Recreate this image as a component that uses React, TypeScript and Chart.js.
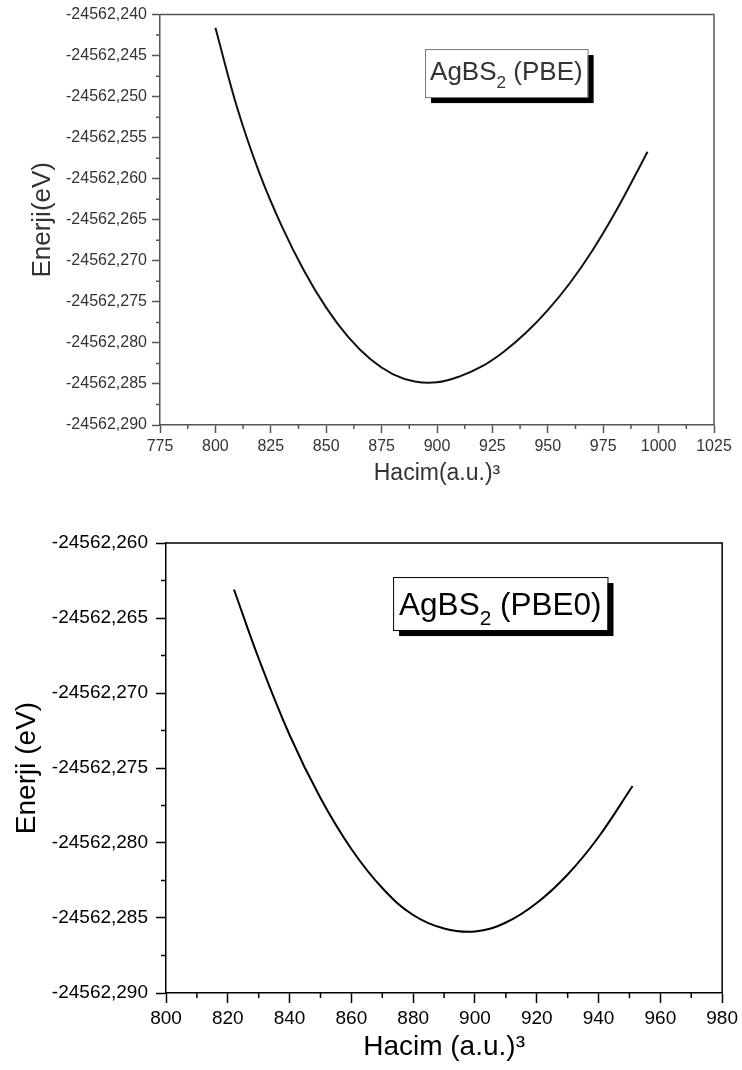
import React, { useEffect, useRef } from "react";
import { Chart, registerables } from "chart.js";

Chart.register(...registerables);

// ---------- Data: top chart (PBE) ----------
const topVolume = [800, 810, 820, 830, 840, 850, 860, 870, 880, 890, 900, 910, 920, 930, 940, 950, 960, 970, 980, 990, 995];
const topEnergy = [
  -24562.2416, -24562.2515, -24562.2594, -24562.2658, -24562.2712, -24562.2757, -24562.2793,
  -24562.282, -24562.2838, -24562.2847, -24562.2848, -24562.2841, -24562.2829, -24562.2811,
  -24562.2788, -24562.276, -24562.2727, -24562.2688, -24562.2643, -24562.2593, -24562.2567,
];
const topXTicks = [775, 800, 825, 850, 875, 900, 925, 950, 975, 1000, 1025];
const topYTicks = [-24562.29, -24562.285, -24562.28, -24562.275, -24562.27, -24562.265, -24562.26, -24562.255, -24562.25, -24562.245, -24562.24];
const topXMinor = 12.5;
const topYMinor = 0.0025;
const topLabelParts = ["AgBS", "2", " (PBE)"];
const topLabelAnchor = [894.6, -24562.2442];
const topXTitle = "Hacim(a.u.)³";
const topYTitle = "Enerji(eV)";

// ---------- Data: bottom chart (PBE0) ----------
const bottomVolume = [822, 830, 840, 850, 860, 870, 880, 890, 900, 910, 920, 930, 940, 951];
const bottomEnergy = [
  -24562.2631, -24562.2677, -24562.2728, -24562.277, -24562.2804, -24562.283, -24562.2848,
  -24562.2857, -24562.2859, -24562.2853, -24562.284, -24562.2821, -24562.2796, -24562.2762,
];
const bottomXTicks = [800, 820, 840, 860, 880, 900, 920, 940, 960, 980];
const bottomYTicks = [-24562.29, -24562.285, -24562.28, -24562.275, -24562.27, -24562.265, -24562.26];
const bottomXMinor = 10;
const bottomYMinor = 0.0025;
const bottomLabelParts = ["AgBS", "2", " (PBE0)"];
const bottomLabelAnchor = [873.5, -24562.26227];
const bottomXTitle = "Hacim (a.u.)³";
const bottomYTitle = "Enerji (eV)";

const FONT = "'Liberation Sans', Arial, sans-serif";

const fmtY = (v: number) => Number(v).toFixed(3).replace(".", ",");

const decoPlugin = {
  id: "deco",
  afterDraw(chart: any, _args: any, opts: any) {
    const { ctx, chartArea, scales } = chart;
    const { left, right, top, bottom } = chartArea;
    const x = scales.x;
    const y = scales.y;
    ctx.save();
    ctx.strokeStyle = opts.axisColor;
    ctx.lineWidth = opts.axisWidth;
    ctx.beginPath();
    ctx.moveTo(left, top);
    ctx.lineTo(right, top);
    ctx.lineTo(right, bottom);
    ctx.stroke();
    ctx.lineWidth = opts.tickWidth;
    ctx.beginPath();
    const nx = Math.round((x.max - x.min) / opts.xMinor);
    for (let i = 1; i < nx; i += 2) {
      const px = x.getPixelForValue(x.min + i * opts.xMinor);
      ctx.moveTo(px, bottom);
      ctx.lineTo(px, bottom + opts.minorLen);
    }
    const ny = Math.round((y.max - y.min) / opts.yMinor);
    for (let i = 1; i < ny; i += 2) {
      const py = y.getPixelForValue(y.min + i * opts.yMinor);
      ctx.moveTo(left, py);
      ctx.lineTo(left - opts.minorLen, py);
    }
    ctx.stroke();

    const [main, sub, rest] = opts.labelParts;
    const bx = x.getPixelForValue(opts.anchor[0]);
    const by = y.getPixelForValue(opts.anchor[1]);
    const fs = opts.labelSize;
    const subFs = fs * 0.66;
    ctx.font = `${fs}px ${FONT}`;
    const w1 = ctx.measureText(main).width;
    const w3 = ctx.measureText(rest).width;
    ctx.font = `${subFs}px ${FONT}`;
    const w2 = ctx.measureText(sub).width;
    const bw = w1 + w2 + w3 + opts.padX * 2;
    const bh = opts.boxH;
    ctx.fillStyle = "#000";
    ctx.fillRect(bx + opts.shadow, by + opts.shadow, bw, bh);
    ctx.fillStyle = "#fff";
    ctx.fillRect(bx, by, bw, bh);
    ctx.strokeStyle = opts.boxBorder;
    ctx.lineWidth = 1;
    ctx.strokeRect(bx + 0.5, by + 0.5, bw, bh);
    ctx.fillStyle = opts.textColor;
    ctx.textBaseline = "alphabetic";
    ctx.textAlign = "left";
    const base = by + opts.baseline;
    let cx = bx + opts.padX;
    ctx.font = `${fs}px ${FONT}`;
    ctx.fillText(main, cx, base);
    cx += w1;
    ctx.font = `${subFs}px ${FONT}`;
    ctx.fillText(sub, cx, base + fs * 0.3);
    cx += w2;
    ctx.font = `${fs}px ${FONT}`;
    ctx.fillText(rest, cx, base);
    ctx.restore();
  },
};

type P = {
  width: number;
  height: number;
  volume: number[];
  energy: number[];
  xTicks: number[];
  yTicks: number[];
  xMinor: number;
  yMinor: number;
  labelParts: string[];
  anchor: number[];
  xTitle: string;
  yTitle: string;
  s: any;
};

function EnergyChart(p: P) {
  const ref = useRef<HTMLCanvasElement | null>(null);
  useEffect(() => {
    if (!ref.current) return;
    const s = p.s;
    const chart = new Chart(ref.current, {
      type: "line",
      data: {
        datasets: [
          {
            data: p.volume.map((v, i) => ({ x: v, y: p.energy[i] })),
            borderColor: s.lineColor,
            borderWidth: s.lineWidth,
            pointRadius: 0,
            fill: false,
            tension: 0.4,
            cubicInterpolationMode: "default",
          },
        ],
      },
      options: {
        responsive: false,
        animation: false,
        devicePixelRatio: 1,
        layout: { padding: { left: 0, right: s.padRight, top: s.padTop, bottom: 0 } },
        plugins: {
          legend: { display: false },
          tooltip: { enabled: false },
          deco: {
            axisColor: s.axisColor,
            axisWidth: s.axisWidth,
            tickWidth: s.axisWidth,
            minorLen: s.minorLen,
            xMinor: p.xMinor,
            yMinor: p.yMinor,
            labelParts: p.labelParts,
            anchor: p.anchor,
            labelSize: s.labelSize,
            padX: s.boxPadX,
            boxH: s.boxH,
            baseline: s.boxBaseline,
            shadow: s.shadow,
            boxBorder: s.boxBorder,
            textColor: s.textColor,
          },
        } as any,
        scales: {
          x: {
            type: "linear",
            min: p.xTicks[0],
            max: p.xTicks[p.xTicks.length - 1],
            afterBuildTicks: (sc: any) => {
              sc.ticks = p.xTicks.map((value) => ({ value }));
            },
            afterFit: (sc: any) => {
              sc.height = s.xAxisH;
            },
            grid: {
              drawOnChartArea: false,
              drawTicks: true,
              tickLength: s.majorLen,
              tickColor: s.axisColor,
              tickWidth: s.axisWidth,
            },
            border: { display: true, color: s.axisColor, width: s.axisWidth },
            ticks: {
              autoSkip: false,
              maxRotation: 0,
              padding: s.xTickPad,
              color: s.textColor,
              font: { family: FONT, size: s.tickSize },
              callback: (v: any) => String(v),
            },
            title: {
              display: true,
              text: p.xTitle,
              color: s.textColor,
              font: { family: FONT, size: s.xTitleSize },
              padding: { top: 0, bottom: s.xTitlePad },
            },
          },
          y: {
            type: "linear",
            min: p.yTicks[0],
            max: p.yTicks[p.yTicks.length - 1],
            afterBuildTicks: (sc: any) => {
              sc.ticks = p.yTicks.map((value) => ({ value }));
            },
            afterFit: (sc: any) => {
              sc.width = s.yAxisW;
            },
            grid: {
              drawOnChartArea: false,
              drawTicks: true,
              tickLength: s.majorLen,
              tickColor: s.axisColor,
              tickWidth: s.axisWidth,
            },
            border: { display: true, color: s.axisColor, width: s.axisWidth },
            ticks: {
              autoSkip: false,
              padding: s.yTickPad,
              color: s.textColor,
              font: { family: FONT, size: s.tickSize },
              callback: (v: any) => fmtY(v),
            },
            title: {
              display: true,
              text: p.yTitle,
              color: s.textColor,
              font: { family: FONT, size: s.yTitleSize },
              padding: { top: s.yTitlePad, bottom: 0 },
            },
          },
        },
      } as any,
      plugins: [decoPlugin as any],
    });
    return () => chart.destroy();
  }, []);
  return <canvas ref={ref} width={p.width} height={p.height} style={{ display: "block" }} />;
}

const topStyle = {
  lineColor: "#111",
  lineWidth: 2,
  axisColor: "#555",
  axisWidth: 1.5,
  textColor: "#333",
  majorLen: 8,
  minorLen: 4,
  padRight: 28,
  padTop: 13,
  xAxisH: 85,
  yAxisW: 160,
  tickSize: 16,
  xTickPad: 4,
  yTickPad: 5,
  xTitleSize: 23,
  xTitlePad: 23,
  yTitleSize: 26,
  yTitlePad: 27,
  labelSize: 26,
  boxPadX: 5,
  boxH: 48,
  boxBaseline: 31,
  shadow: 6,
  boxBorder: "#777",
};

const bottomStyle = {
  lineColor: "#000",
  lineWidth: 2,
  axisColor: "#000",
  axisWidth: 1.5,
  textColor: "#000",
  majorLen: 10,
  minorLen: 5,
  padRight: 18,
  padTop: 33,
  xAxisH: 77,
  yAxisW: 166,
  tickSize: 19,
  xTickPad: 4,
  yTickPad: 8,
  xTitleSize: 28,
  xTitlePad: 6,
  yTitleSize: 28,
  yTitlePad: 10,
  labelSize: 31.5,
  boxPadX: 6,
  boxH: 53,
  boxBaseline: 38,
  shadow: 6,
  boxBorder: "#000",
};

export default function App() {
  useEffect(() => {
    document.body.style.margin = "0";
    document.body.style.background = "#fff";
  }, []);
  return (
    <div style={{ position: "relative", width: 742, height: 1070, background: "#fff" }}>
      <div style={{ position: "absolute", left: 0, top: 0 }}>
        <EnergyChart
          width={742}
          height={510}
          volume={topVolume}
          energy={topEnergy}
          xTicks={topXTicks}
          yTicks={topYTicks}
          xMinor={topXMinor}
          yMinor={topYMinor}
          labelParts={topLabelParts}
          anchor={topLabelAnchor}
          xTitle={topXTitle}
          yTitle={topYTitle}
          s={topStyle}
        />
      </div>
      <div style={{ position: "absolute", left: 0, top: 510 }}>
        <EnergyChart
          width={742}
          height={560}
          volume={bottomVolume}
          energy={bottomEnergy}
          xTicks={bottomXTicks}
          yTicks={bottomYTicks}
          xMinor={bottomXMinor}
          yMinor={bottomYMinor}
          labelParts={bottomLabelParts}
          anchor={bottomLabelAnchor}
          xTitle={bottomXTitle}
          yTitle={bottomYTitle}
          s={bottomStyle}
        />
      </div>
    </div>
  );
}
